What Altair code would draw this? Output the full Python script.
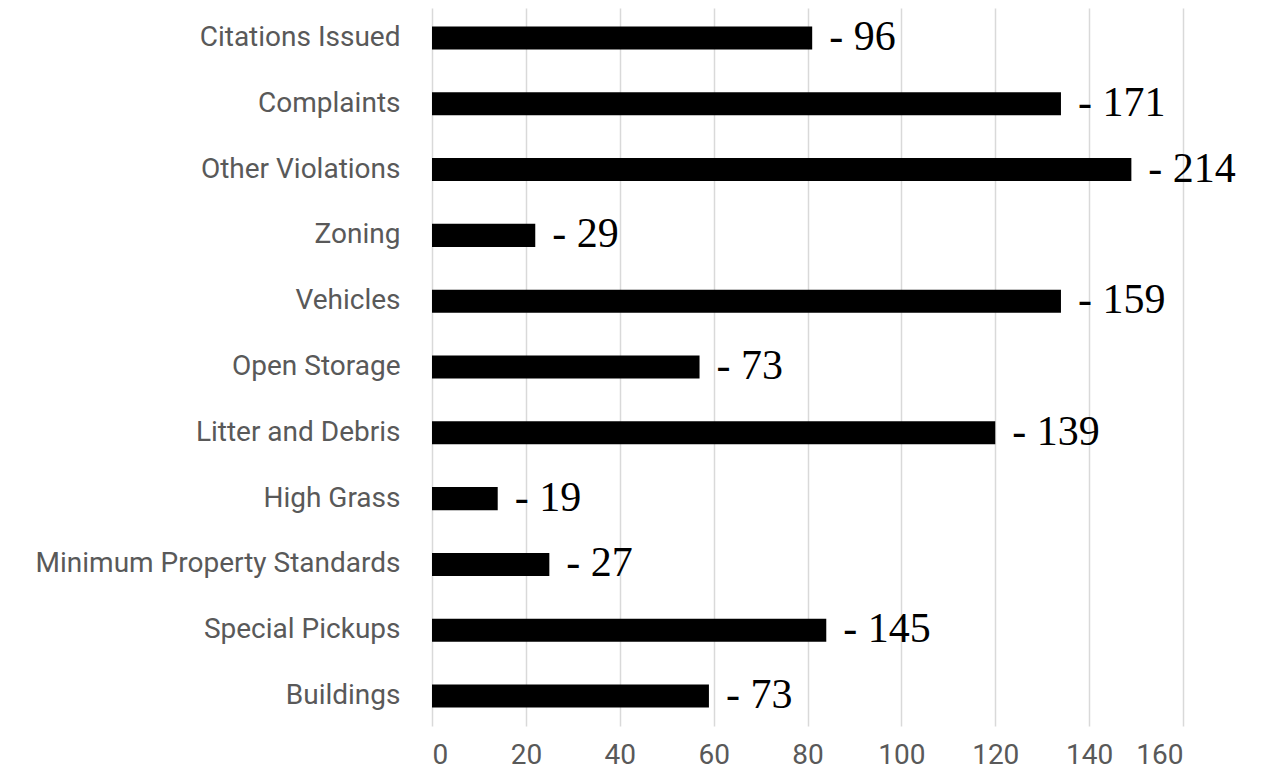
import altair as alt
import pandas as pd

categories = [
    "Citations Issued", "Complaints", "Other Violations", "Zoning", "Vehicles",
    "Open Storage", "Litter and Debris", "High Grass",
    "Minimum Property Standards", "Special Pickups", "Buildings",
]
bar_values = [81, 134, 149, 22, 134, 57, 120, 14, 25, 84, 59]
label_values = [96, 171, 214, 29, 159, 73, 139, 19, 27, 145, 73]
x_ticks = [0, 20, 40, 60, 80, 100, 120, 140, 160]

df = pd.DataFrame({
    "category": categories,
    "value": bar_values,
    "label": ["- " + str(v) for v in label_values],
})

y_enc = alt.Y(
    "category:N", sort=categories, title=None,
    scale=alt.Scale(paddingInner=0.65, paddingOuter=0.28),
    axis=alt.Axis(
        labelFont="Roboto", labelFontSize=28, labelColor="#595959",
        labelPadding=32, ticks=False, domain=False, grid=False,
        minExtent=424, maxExtent=424, labelLimit=0,
    ),
)
x_enc = alt.X(
    "value:Q", title=None,
    scale=alt.Scale(domain=[0, 160], nice=False),
    axis=alt.Axis(
        values=x_ticks, labelFont="Roboto", labelFontSize=28, labelColor="#595959",
        labelPadding=15, ticks=False, domain=False, grid=True,
        gridColor="#d9d9d9", gridWidth=1.5,
    ),
)

bars = alt.Chart(df).mark_bar(color="#000000").encode(x=x_enc, y=y_enc)

labels = alt.Chart(df).mark_text(
    align="left", baseline="alphabetic", dx=17, dy=12,
    font="Liberation Serif", fontSize=42, color="#000000",
).encode(x=alt.X("value:Q"), y=alt.Y("category:N", sort=categories), text="label:N")

chart = (bars + labels).properties(width=751, height=718, padding=0).configure_view(
    stroke=None
)

chart.save("out.html", embed_options={"renderer": "svg", "actions": False})
